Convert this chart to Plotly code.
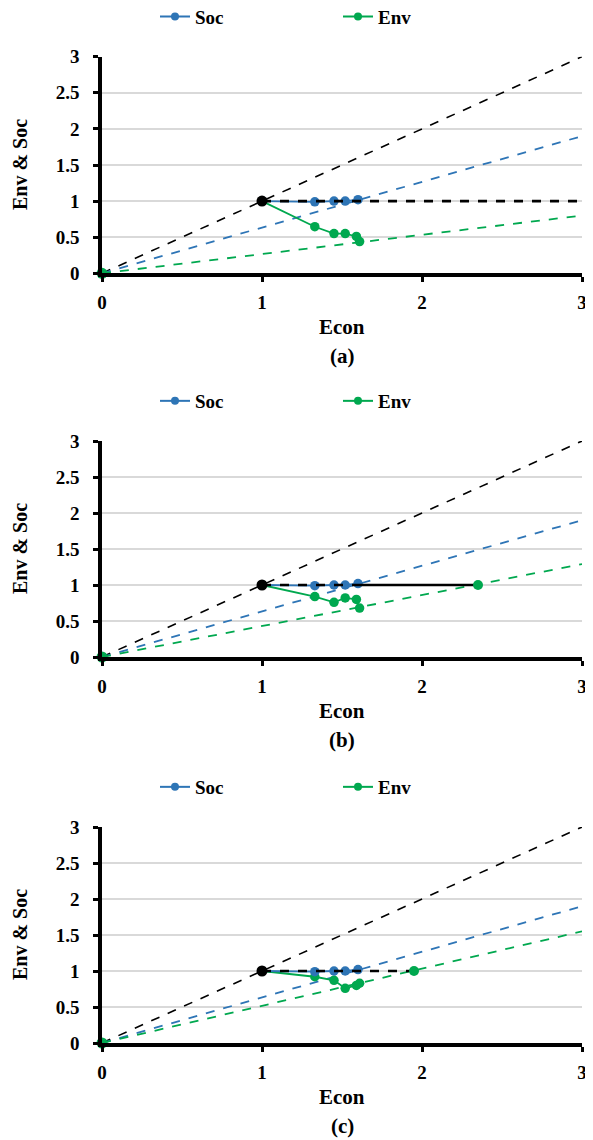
import plotly.graph_objects as go

# ---------------- data ----------------
soc_x = [1, 1.33, 1.45, 1.52, 1.60]
soc_y = [1, 0.99, 1.00, 1.00, 1.02]

env_x = [1, 1.33, 1.45, 1.52, 1.59, 1.61]
env_a = [1, 0.645, 0.55, 0.55, 0.51, 0.44]
env_b = [1, 0.84, 0.76, 0.82, 0.80, 0.68]
env_c = [1, 0.92, 0.87, 0.76, 0.80, 0.83]

# target points (Env reaching 1) for panels b and c
target_x = [None, 2.35, 1.95]

# end values at Econ = 3 of reference rays from the origin
black_ray_end = 3.0
soc_ray_end = 1.9
env_ray_end = [0.8, 1.29, 1.55]

env_sets = [env_a, env_b, env_c]
panel_labels = ["(a)", "(b)", "(c)"]

BLUE = "#2E75B6"
GREEN = "#00A84F"
FONT = "Liberation Serif, Times New Roman, Times, serif"

# the page body has an 8px default margin; compensate
OFF = 8
W, H = 593 - OFF, 1140 - OFF


def py(p):  # reference pixel y -> paper fraction
    return 1 - (p - OFF) / H


def px(p):  # reference pixel x -> paper fraction
    return (p - OFF) / W


# pixel layout of each panel in the reference: (y of value 0, y of value 3)
panels_px = [(273.3, 56.7), (657.0, 441.0), (1043.0, 827.0)]
x0_px, x3_px = 102, 582

fig = go.Figure()
legend_names = ["legend", "legend2", "legend3"]

for i in range(3):
    sfx = "" if i == 0 else str(i + 1)
    xa = "x" + sfx
    ya = "y" + sfx
    lg = legend_names[i]
    ex = env_x
    ey = env_sets[i]

    common = dict(xaxis=xa, yaxis=ya, cliponaxis=False)
    # reference rays
    fig.add_trace(go.Scatter(x=[0, 3], y=[0, black_ray_end], mode="lines",
                             line=dict(color="black", width=1.6, dash="dash"),
                             showlegend=False, **common))
    fig.add_trace(go.Scatter(x=[0, 3], y=[0, soc_ray_end], mode="lines",
                             line=dict(color=BLUE, width=1.8, dash="dash"),
                             showlegend=False, **common))
    fig.add_trace(go.Scatter(x=[0, 3], y=[0, env_ray_end[i]], mode="lines",
                             line=dict(color=GREEN, width=1.8, dash="dash"),
                             showlegend=False, **common))
    # Env line
    fig.add_trace(go.Scatter(x=ex, y=ey, mode="lines+markers", name="Env",
                             line=dict(color=GREEN, width=1.8),
                             marker=dict(color=GREEN, size=9.5),
                             legend=lg, showlegend=False, **common))
    # Soc line
    fig.add_trace(go.Scatter(x=soc_x, y=soc_y, mode="lines+markers", name="Soc",
                             line=dict(color=BLUE, width=1.8),
                             marker=dict(color=BLUE, size=9.5),
                             legend=lg, showlegend=False, **common))
    # horizontal black line at 1
    if i == 0:
        fig.add_trace(go.Scatter(x=[1, 3], y=[1, 1], mode="lines",
                                 line=dict(color="black", width=2.6, dash="dash"),
                                 showlegend=False, **common))
    elif i == 1:
        fig.add_trace(go.Scatter(x=[1, soc_x[-1]], y=[1, 1], mode="lines",
                                 line=dict(color="black", width=2.4, dash="dash"),
                                 showlegend=False, **common))
        fig.add_trace(go.Scatter(x=[soc_x[-1], target_x[i]], y=[1, 1], mode="lines",
                                 line=dict(color="black", width=2.4),
                                 showlegend=False, **common))
    else:
        fig.add_trace(go.Scatter(x=[1, target_x[i]], y=[1, 1], mode="lines",
                                 line=dict(color="black", width=2.4, dash="dash"),
                                 showlegend=False, **common))
    if target_x[i] is not None:
        fig.add_trace(go.Scatter(x=[target_x[i]], y=[1], mode="markers",
                                 marker=dict(color=GREEN, size=10),
                                 showlegend=False, **common))
    # black point at (1,1)
    fig.add_trace(go.Scatter(x=[1], y=[1], mode="markers",
                             marker=dict(color="black", size=11),
                             showlegend=False, **common))
    # origin point
    fig.add_trace(go.Scatter(x=[0], y=[0], mode="markers",
                             marker=dict(color=GREEN, size=11),
                             showlegend=False, **common))
    # legend entries
    fig.add_trace(go.Scatter(x=[None], y=[None], mode="lines+markers", name="Soc",
                             line=dict(color=BLUE, width=2), marker=dict(color=BLUE, size=8),
                             legend=lg, showlegend=True, xaxis=xa, yaxis=ya))
    fig.add_trace(go.Scatter(x=[None], y=[None], mode="lines+markers", name="Env",
                             line=dict(color=GREEN, width=2), marker=dict(color=GREEN, size=8),
                             legend=lg, showlegend=True, xaxis=xa, yaxis=ya))

layout = dict(
    width=W, height=H,
    margin=dict(l=0, r=0, t=0, b=0, autoexpand=False),
    paper_bgcolor="white", plot_bgcolor="white",
    showlegend=True,
    font=dict(family=FONT, size=19, color="black", weight="bold"),
)

annotations = []
for i in range(3):
    sfx = "" if i == 0 else str(i + 1)
    y0p, y3p = panels_px[i]
    dom_y = [py(y0p), py(y3p)]
    dom_x = [px(x0_px), px(x3_px)]
    layout["xaxis" + sfx] = dict(
        domain=dom_x, range=[0, 3], anchor="y" + sfx,
        tickvals=[0, 1, 2, 3], ticktext=["0", "1", "2", "3"],
        showgrid=False, zeroline=False, automargin=False,
        showline=True, linecolor="black", linewidth=3.5,
        ticks="outside", ticklen=5, tickwidth=2.5, tickcolor="black",
        ticklabelstandoff=4,
        tickfont=dict(family=FONT, size=19, weight="bold", color="black"),
        fixedrange=True,
    )
    layout["yaxis" + sfx] = dict(
        domain=dom_y, range=[0, 3], anchor="x" + sfx,
        tickvals=[0, 0.5, 1, 1.5, 2, 2.5, 3],
        ticktext=["0", "0.5", "1", "1.5", "2", "2.5", "3"],
        showgrid=True, gridcolor="#D9D9D9", gridwidth=1.5,
        zeroline=False, automargin=False,
        showline=True, linecolor="black", linewidth=3.5,
        ticks="outside", ticklen=5, tickwidth=2.5, tickcolor="black",
        ticklabelstandoff=10,
        tickfont=dict(family=FONT, size=19, weight="bold", color="black"),
        fixedrange=True,
    )
    lg = legend_names[i]
    layout[lg] = dict(
        orientation="h", x=px(155), xanchor="left",
        y=py(y3p - 40), yanchor="middle",
        font=dict(family=FONT, size=19, weight="bold", color="black"),
        entrywidth=138, bgcolor="rgba(0,0,0,0)",
        itemclick=False, itemdoubleclick=False,
    )
    # axis titles and panel label
    annotations.append(dict(text="Econ", x=px(342), y=py(y0p + 54),
                            xref="paper", yref="paper", showarrow=False,
                            font=dict(family=FONT, size=21, weight="bold"),
                            xanchor="center", yanchor="middle"))
    annotations.append(dict(text=panel_labels[i], x=px(342), y=py(y0p + 83),
                            xref="paper", yref="paper", showarrow=False,
                            font=dict(family=FONT, size=21, weight="bold"),
                            xanchor="center", yanchor="middle"))
    annotations.append(dict(text="Env &amp; Soc", x=px(20), y=py((y0p + y3p) / 2),
                            xref="paper", yref="paper", showarrow=False, textangle=-90,
                            font=dict(family=FONT, size=20, weight="bold"),
                            xanchor="center", yanchor="middle"))

layout["annotations"] = annotations
fig.update_layout(**layout)
fig.write_html("out.html")
